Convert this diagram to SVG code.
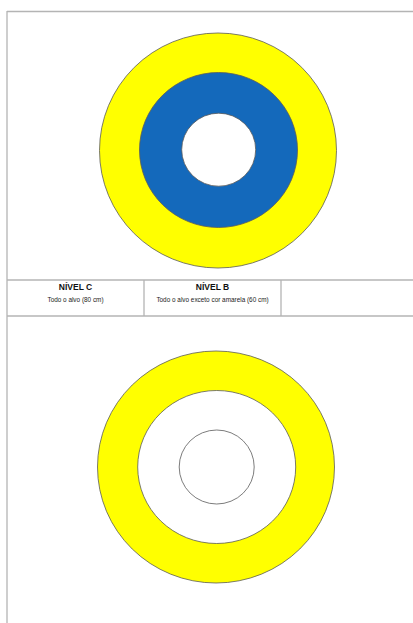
<svg xmlns="http://www.w3.org/2000/svg" width="413" height="623" viewBox="0 0 413 623">
<style>
.rule{stroke:#b4b4b4;stroke-width:1.3;fill:none}
.ring{stroke:#5a5a5a;stroke-width:0.8}
.yellow{fill:#ffff00}
.blue{fill:#1469bb}
.white{fill:#ffffff}
.title{font-family:"Liberation Sans",Arial,sans-serif;font-weight:bold;font-size:8.5px;fill:#111;text-anchor:middle}
.sub{font-family:"Liberation Sans",Arial,sans-serif;font-size:6.4px;fill:#222;text-anchor:middle}
</style>
<rect width="413" height="623" fill="#ffffff"/>
<g id="page-frame">
<line class="rule" x1="7" y1="11.5" x2="413" y2="11.5"/>
<line class="rule" x1="7" y1="11" x2="7" y2="623"/>
</g>
<g id="target-top">
<ellipse class="ring yellow" cx="218" cy="150.5" rx="118.5" ry="117.5"/>
<ellipse class="ring blue" cx="218.5" cy="150" rx="79" ry="77.5"/>
<ellipse class="ring white" cx="218.7" cy="149.7" rx="37" ry="36.5"/>
</g>
<g id="table">
<line class="rule" x1="7" y1="280" x2="413" y2="280"/>
<line class="rule" x1="7" y1="316" x2="413" y2="316"/>
<line class="rule" x1="144" y1="280" x2="144" y2="316"/>
<line class="rule" x1="281" y1="280" x2="281" y2="316"/>
</g>
<g id="cell-c">
<text class="title" x="75.5" y="289.5">NÍVEL C</text>
<text class="sub" x="75.5" y="302">Todo o alvo (80 cm)</text>
</g>
<g id="cell-b">
<text class="title" x="212.5" y="289.5">NÍVEL B</text>
<text class="sub" x="212.5" y="302">Todo o alvo exceto cor amarela (60 cm)</text>
</g>
<g id="target-bottom">
<ellipse class="ring yellow" cx="216" cy="467" rx="118.5" ry="116"/>
<ellipse class="ring white" cx="216.7" cy="467" rx="79" ry="76.5"/>
<ellipse class="ring white" cx="216.7" cy="467" rx="37.5" ry="37"/>
</g>
</svg>
